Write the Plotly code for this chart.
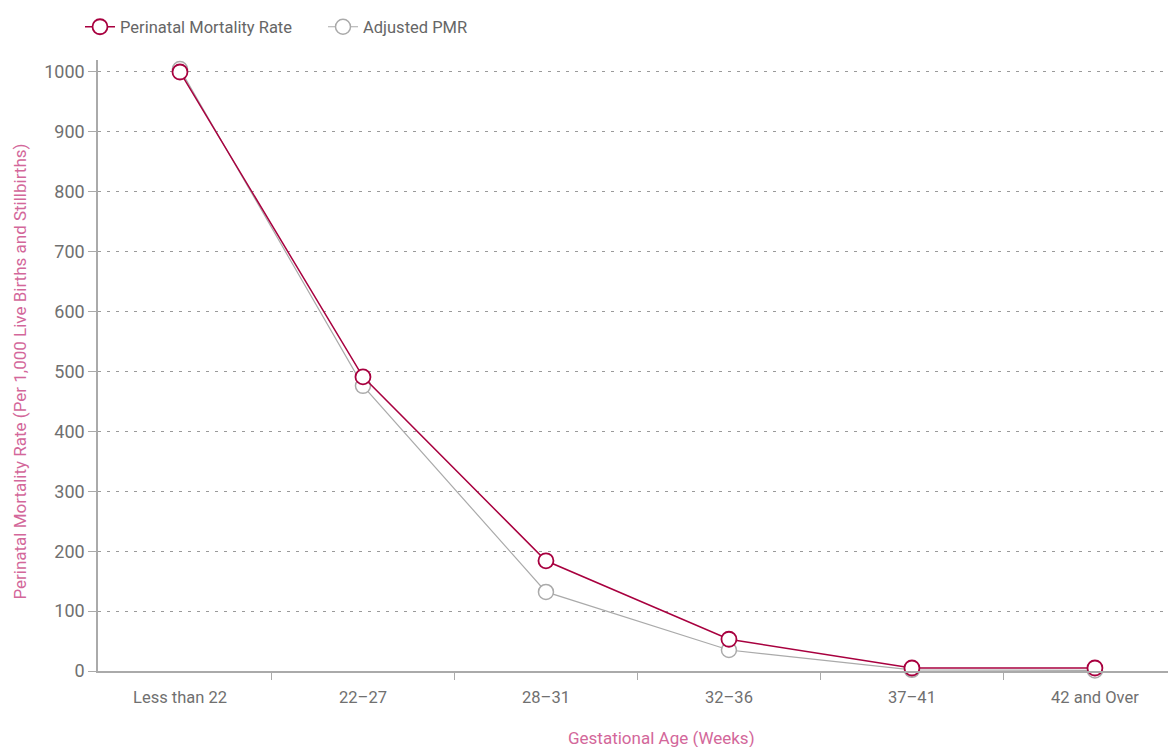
import plotly.graph_objects as go

categories = ["Less than 22", "22–27", "28–31", "32–36", "37–41", "42 and Over"]
pmr = [1000, 491, 184, 53, 5, 5]
adjusted_pmr = [1005, 476, 132, 35, 2, 1]
y_ticks = [0, 100, 200, 300, 400, 500, 600, 700, 800, 900, 1000]

RED = "#A8003F"
GREY = "#AAAAAA"
TXT = "#707070"
PINK = "#D3679A"
FONT = "Roboto, sans-serif"

fig = go.Figure()
fig.add_trace(go.Scatter(
    x=categories, y=adjusted_pmr, name="Adjusted PMR", mode="lines+markers",
    line=dict(color=GREY, width=1.2),
    marker=dict(symbol="circle", size=15, color="white", line=dict(color=GREY, width=1.5)),
    cliponaxis=False,
))
fig.add_trace(go.Scatter(
    x=categories, y=pmr, name="Perinatal Mortality Rate", mode="lines+markers",
    line=dict(color=RED, width=1.5),
    marker=dict(symbol="circle", size=15, color="white", line=dict(color=RED, width=1.8)),
    cliponaxis=False,
))

fig.update_layout(
    width=1168, height=739,
    margin=dict(l=90, r=0, t=52, b=76),
    plot_bgcolor="white", paper_bgcolor="white",
    font=dict(family=FONT, size=16, color=TXT),
    showlegend=True,
    legend=dict(orientation="h", x=-0.0167, xanchor="left", y=1.054, yanchor="middle",
                traceorder="reversed", font=dict(size=16.5, color="#666666"),
                itemwidth=30, entrywidth=198, entrywidthmode="pixels"),
    xaxis=dict(
        type="category", range=[-0.448, 5.443],
        showline=True, linecolor=GREY, linewidth=1.5,
        ticks="outside", tickson="boundaries", ticklen=7, tickcolor=GREY,
        showgrid=False, tickfont=dict(size=16.5, color=TXT), ticklabelstandoff=10,
    ),
    yaxis=dict(
        range=[0, 1020], tickvals=y_ticks,
        showline=True, linecolor=GREY, linewidth=1.5,
        ticks="outside", ticklen=8, tickcolor=GREY,
        showgrid=True, gridcolor="#9A9A9A", gridwidth=1, griddash="3px,6px",
        zeroline=False, tickfont=dict(size=18, color=TXT),
    ),
    shapes=[
        dict(type="line", xref="paper", x0=0, x1=0, yref="y", ysizemode="pixel",
             yanchor=0, y0=0, y1=-7, line=dict(color=GREY, width=1.5)),
    ],
    annotations=[
        dict(text="Perinatal Mortality Rate (Per 1,000 Live Births and Stillbirths)",
             xref="paper", yref="paper", x=0, y=0.49, xshift=-78, textangle=-90,
             showarrow=False, font=dict(size=17, color=PINK), xanchor="center", yanchor="middle"),
        dict(text="Gestational Age (Weeks)", xref="paper", yref="paper", x=0.523, y=0,
             yshift=-67, showarrow=False, font=dict(size=17, color=PINK),
             xanchor="center", yanchor="middle"),
    ],
)

fig.write_html("out.html")
